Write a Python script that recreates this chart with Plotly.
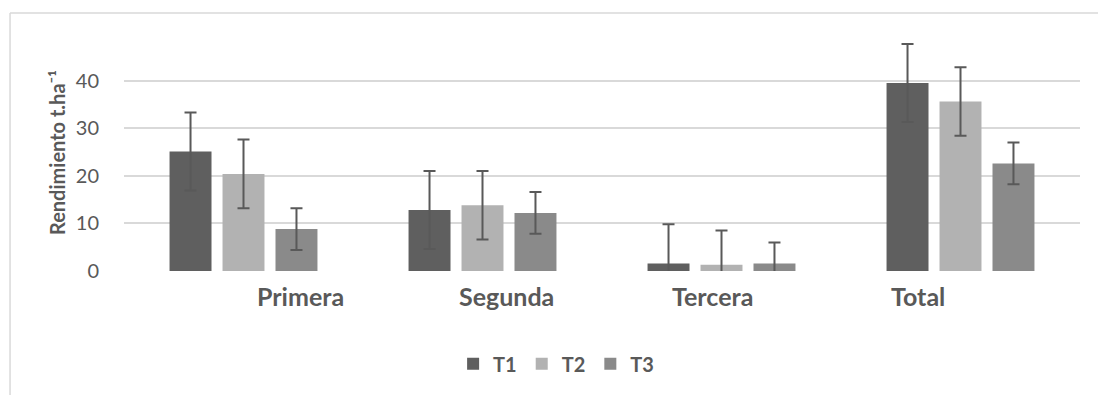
import plotly.graph_objects as go

# Yield by harvest class and treatment
categories = ["Primera", "Segunda", "Tercera", "Total"]
series_names = ["T1", "T2", "T3"]
t1_values = [25.1, 12.8, 1.6, 39.5]
t2_values = [20.4, 13.8, 1.3, 35.6]
t3_values = [8.8, 12.2, 1.6, 22.6]
t1_errors = [8.2, 8.2, 8.2, 8.2]
t2_errors = [7.2, 7.2, 7.2, 7.2]
t3_errors = [4.4, 4.4, 4.4, 4.4]
y_ticks = [0, 10, 20, 30, 40]
y_title = "Rendimiento t.ha⁻¹"

values = [t1_values, t2_values, t3_values]
errors = [t1_errors, t2_errors, t3_errors]
colors = ["#5f5f5f", "#b2b2b2", "#8a8a8a"]

FONT = "Lato"
TEXT_COLOR = "#595959"
GRID_COLOR = "#d9d9d9"

fig = go.Figure()
for name, vals, errs, col in zip(series_names, values, errors, colors):
    fig.add_trace(go.Bar(
        name=name,
        x=categories,
        y=vals,
        marker=dict(color=col, line=dict(width=0)),
        error_y=dict(type="data", array=errs, visible=True,
                     color="#595959", thickness=2, width=6),
    ))

# category labels sit on their own evenly spaced row below the axis
label_start, label_step = 0.185, 0.2152
annotations = [
    dict(text=f"<b>{cat}</b>", x=label_start + i * label_step, y=-0.105,
         xref="paper", yref="paper", xanchor="center", yanchor="middle",
         showarrow=False, font=dict(family=FONT, size=25, color=TEXT_COLOR))
    for i, cat in enumerate(categories)
]
annotations.append(dict(
    text=f"<b>{y_title}</b>", x=-0.070, y=0.496, xref="paper", yref="paper",
    xanchor="center", yanchor="middle", textangle=-90, showarrow=False,
    font=dict(family=FONT, size=20, color=TEXT_COLOR)))

# light frame around the chart area
shapes = [
    dict(type="line", xref="paper", yref="paper", x0=-0.1192, x1=1.03,
         y0=1.084, y1=1.084, line=dict(color=GRID_COLOR, width=1.5)),
    dict(type="line", xref="paper", yref="paper", x0=-0.1192, x1=-0.1192,
         y0=1.084, y1=-0.6, line=dict(color=GRID_COLOR, width=1.5)),
]

fig.update_layout(
    width=1098, height=395,
    margin=dict(l=124, r=18, t=33, b=124),
    paper_bgcolor="white", plot_bgcolor="white",
    barmode="group", bargap=0.335, bargroupgap=0.208,
    font=dict(family=FONT, color=TEXT_COLOR),
    showlegend=True,
    legend=dict(orientation="h", x=0.452, xanchor="center", y=-0.39,
                yanchor="middle", tracegroupgap=0,
                font=dict(family=FONT, size=20, color=TEXT_COLOR, weight="bold"),
                bgcolor="rgba(0,0,0,0)"),
    annotations=annotations,
    shapes=shapes,
)
fig.update_xaxes(type="category", showticklabels=False, showgrid=False,
                 zeroline=False, showline=False, ticks="")
fig.update_yaxes(range=[0, 50], tickvals=y_ticks, showgrid=True,
                 gridcolor=GRID_COLOR, gridwidth=1.5, zeroline=False,
                 showline=False, ticks="", ticklabelstandoff=24,
                 tickfont=dict(family=FONT, size=20, color=TEXT_COLOR))

fig.write_html("out.html")
